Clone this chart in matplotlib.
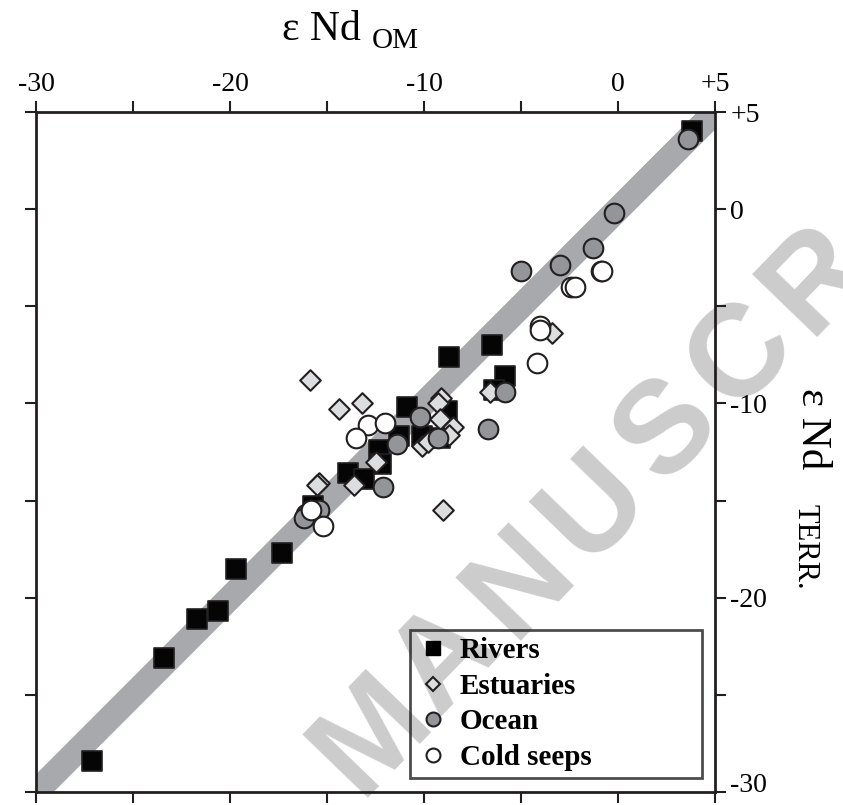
import matplotlib
matplotlib.use("Agg")
import matplotlib.pyplot as plt
from matplotlib.lines import Line2D

plt.rcParams['font.family'] = ['Liberation Serif', 'DejaVu Serif']

# 数据：eNd OM (x) 与 eNd TERR. (y)
rivers_x = [3.8, -8.7, -6.5, -5.8, -6.4, -10.9, -8.8, -10.1, -9.2, -11.3, -12.3,
            -12.2, -13.9, -13.1, -15.7, -17.3, -19.7, -20.6, -21.7, -23.4, -27.1]
rivers_y = [4.0, -7.6, -7.0, -8.6, -9.3, -10.2, -10.4, -11.7, -11.8, -11.7, -12.4,
            -13.1, -13.6, -13.9, -15.3, -17.7, -18.5, -20.7, -21.1, -23.1, -28.4]

estuaries_x = [-15.9, -14.4, -13.2, -9.1, -9.3, -9.2, -8.5, -8.7, -10.1, -9.8,
               -12.5, -15.4, -15.5, -13.6, -9.0, -6.6, -3.4]
estuaries_y = [-8.8, -10.3, -10.0, -9.7, -10.0, -10.8, -11.2, -11.6, -12.2, -12.0,
               -13.0, -14.1, -14.2, -14.2, -15.5, -9.4, -6.4]

ocean_x = [-10.2, -11.4, -9.3, -5.8, -6.7, -12.1, -15.4, -16.1, -16.2,
           -5.0, -3.0, -1.3, -0.2, 3.6]
ocean_y = [-10.7, -12.1, -11.8, -9.4, -11.3, -14.3, -15.5, -15.7, -15.9,
           -3.2, -2.9, -2.0, -0.2, 3.6]

seeps_x = [-12.9, -12.0, -13.5, -15.8, -15.2, -2.4, -2.2, -0.9, -0.8, -4.0, -4.0, -4.2]
seeps_y = [-11.1, -11.0, -11.8, -15.5, -16.3, -4.0, -4.0, -3.2, -3.2, -6.0, -6.2, -7.9]

ticks = [-30, -25, -20, -15, -10, -5, 0, 5]
top_labels = ['-30', '', '-20', '', '-10', '', '0', '+5']
right_labels = ['-30', '', '-20', '', '-10', '', '0', '+5']

edge = '#231f20'
W, H = 843, 805

fig = plt.figure(figsize=(8.43, 8.05), dpi=100)
ax = fig.add_axes([36 / W, 13 / H, 679 / W, 680 / H])
ax.patch.set_alpha(0)

# 1:1 线
ax.plot([-30, 5], [-30, 5], color='#a7a9ac', lw=18, solid_capstyle='butt', zorder=1)

ax.scatter(rivers_x, rivers_y, marker='s', s=210, c='#050505', edgecolors=edge, linewidths=1.2, zorder=3)
ax.scatter(estuaries_x, estuaries_y, marker='D', s=110, c='#dcddde', edgecolors=edge, linewidths=1.5, zorder=4)
ax.scatter(ocean_x, ocean_y, marker='o', s=200, c='#939598', edgecolors=edge, linewidths=1.5, zorder=5)
ax.scatter(seeps_x, seeps_y, marker='o', s=200, c='white', edgecolors=edge, linewidths=1.5, zorder=6)

ax.set_xlim(-30, 5)
ax.set_ylim(-30, 5)
ax.set_xticks(ticks)
ax.set_yticks(ticks)
ax.set_xticklabels(top_labels)
ax.set_yticklabels(right_labels)
ax.tick_params(direction='out', length=8, width=1.5, color=edge, labelsize=20,
               top=True, right=True, labeltop=True, labelbottom=False,
               labelleft=False, labelright=True, pad=3)
ax.get_yticklabels()[0].set_va('baseline')
for s in ax.spines.values():
    s.set_linewidth(2)
    s.set_color(edge)

handles = [
    Line2D([], [], ls='none', marker='s', ms=10, mfc='black', mec='black'),
    Line2D([], [], ls='none', marker='D', ms=7, mfc='#dcddde', mec=edge, mew=1.5),
    Line2D([], [], ls='none', marker='o', ms=10, mfc='#939598', mec=edge, mew=1.5),
    Line2D([], [], ls='none', marker='o', ms=10, mfc='white', mec=edge, mew=1.5),
]
leg = ax.legend(handles, ['Rivers', 'Estuaries', 'Ocean', 'Cold seeps'],
                loc='upper left', bbox_to_anchor=(0.551, 0.238, 0.43, 0.0),
                mode='expand', borderaxespad=0, fancybox=False,
                facecolor='none', edgecolor=edge, handletextpad=0.35,
                labelspacing=0.29, borderpad=0.25, handlelength=1.1,
                prop={'weight': 'bold', 'size': 21})
leg.get_frame().set_linewidth(2)
leg.set_zorder(10)

# 坐标轴标题
fig.text(282 / W, 1 - 40 / H, 'ε Nd', fontsize=30, ha='left', va='baseline')
fig.text(372 / W, 1 - 48 / H, 'OM', fontsize=21, ha='left', va='baseline')
fig.text(802 / W, 1 - 388 / H, 'ε Nd', fontsize=31, ha='left', va='baseline',
         rotation=-90, rotation_mode='anchor')
fig.text(798 / W, 1 - 504 / H, 'TERR.', fontsize=22, ha='left', va='baseline',
         rotation=-90, rotation_mode='anchor')

# 水印 (逐字放置, 画面外的字母省略)
wm = 'MANUSCRIPT'
x0, y0 = 372, 735      # M 中心 (像素)
dx, dy = 74, -76       # 每个字母的步长
for i, ch in enumerate(wm):
    cx, cy = x0 + i * dx, y0 + i * dy
    if cx > W:
        break
    fig.text(cx / W, 1 - cy / H, ch, rotation=46,
             rotation_mode='anchor', color='#cccccc', fontsize=94,
             fontweight='bold', family='Liberation Sans',
             ha='center', va='center', zorder=-1)

fig.savefig('out.png', dpi=100)
